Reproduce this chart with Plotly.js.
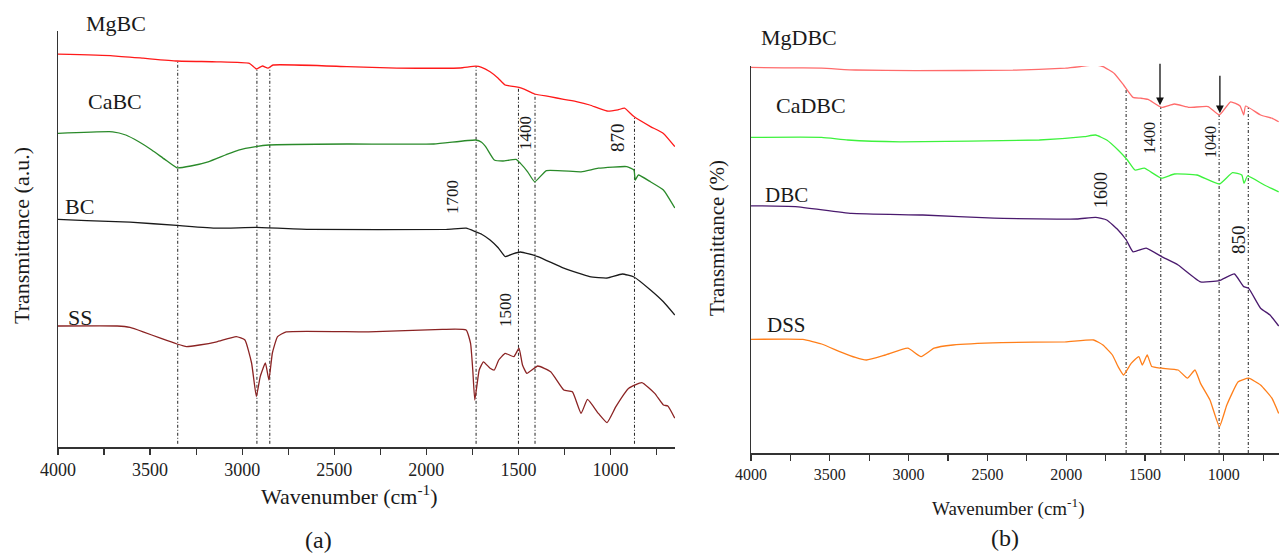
<!DOCTYPE html>
<html>
<head>
<meta charset="utf-8">
<script src="https://cdn.plot.ly/plotly-3.0.1.min.js"></script>
<style>html,body{margin:0;padding:0;background:#fff;}#chart{width:1279px;height:555px;}</style>
</head>
<body>
<div id="chart"></div>
<script>
// ---------- Panel (a) data ----------
const wn_MgBC = [4000,3703,3538,3354,3138,2961,2923,2890,2860,2832,2431,2160,1819,1732,1700,1654,1610,1572,1497,1466,1412,1330,1254,1180,1113,1019,960,924,873,783,713,651];
const t_MgBC  = [98.2,97.8,97.2,96.5,96.3,95.9,94.5,95.25,94.7,95.5,95.1,94.7,94.75,95.2,94.9,93.8,92.2,90.5,89.9,89.4,88.25,87.6,86.9,86.3,85.5,84,84.3,84.7,82.6,80.1,78.4,75.1];

const wn_CaBC = [4000,3703,3632,3561,3491,3420,3354,3279,3185,3091,3020,2926,2855,2431,1960,1732,1700,1678,1631,1584,1513,1489,1450,1412,1348,1160,1066,912,873,866,849,783,713,651];
const t_CaBC  = [78.4,78.8,78,76.3,74.25,71.9,69.8,70.25,71.3,73,74.25,75.1,75.5,75.75,75.75,76.75,76.2,75.1,71.75,71.5,71.9,70.9,68.8,66.3,69.1,68.8,69.7,70.1,69.25,66.75,68,66.3,64.25,59.75];

const wn_BC = [4000,3844,3609,3354,3138,2923,2631,1890,1784,1732,1700,1654,1610,1572,1530,1489,1395,1254,1113,1019,936,873,783,713,651];
const t_BC  = [56.9,56.6,56.2,55.4,54.7,54.9,54.4,54.4,54.7,53.8,53.2,51.75,49.8,47.6,48.3,48.75,47.6,44.7,42.6,42.25,43.25,42.5,39.25,36.3,33];

const wn_SS = [4000,3679,3609,3538,3444,3354,3302,3232,3138,3032,2985,2949,2923,2902,2874,2855,2836,2808,2761,2314,1913,1784,1760,1748,1737,1713,1690,1654,1631,1607,1572,1525,1497,1478,1454,1395,1325,1254,1207,1160,1125,1066,1019,971,901,830,760,713,689,651];
const t_SS  = [30.25,30.25,29.9,28.8,27.2,25.75,25.1,25.5,26.3,27.6,26.75,21,12.6,17.6,21,16.75,23.5,27.6,28.8,28.8,29.4,29.25,25.9,19.25,11.75,19.25,21.3,19.7,19.25,21.75,23.4,22.6,24.7,20.5,18.4,20.25,18.8,14.25,13.8,8.4,11.9,8.4,6.1,10.1,14.7,16.1,13.4,10.5,10.25,7.2];

const names_a = ['MgBC','CaBC','BC','SS'];
const colors_a = ['#ff1a1a','#2a8a2a','#1a1a1a','#8b2323'];
const marks_a = [3350,2920,2850,1730,1500,1410,870];
const peakLabels_a = ['1700','1400','1500','870'];

// ---------- Panel (b) data ----------
const wn_MgDBC = [4000,3790,3552,3338,2957,2338,2005,1910,1826,1767,1695,1636,1576,1528,1481,1395,1314,1219,1100,1028,957,897,874,862,767,695,652];
const t_MgDBC  = [96.4,96.3,96.2,95.75,95.6,95.7,96.2,96.6,97,96.6,94.9,92,88.9,88.7,88.4,86.4,87.25,86.4,86.6,84.5,87.8,86.75,84.5,86.75,84.5,83.7,82.8];

const wn_CaDBC = [4000,3552,3386,3052,2171,1886,1814,1743,1671,1612,1564,1505,1395,1314,1171,1028,945,886,872,850,743,652];
const t_CaDBC  = [78.9,78.9,78.25,77.8,78.25,79.1,79.5,78.25,75.75,73.25,70.75,71.2,68.7,69.75,69.5,67.25,70.1,69.5,67.4,69.25,67,65.3];

const wn_DBC = [4000,3719,3362,2910,2457,1933,1814,1743,1671,1619,1576,1493,1395,1290,1148,1028,933,874,843,767,707,652];
const t_DBC  = [61.8,61.6,59.9,59.5,58.7,58.5,58.9,58.25,55.75,53.25,50.3,51.2,49.1,47,42.8,43.1,44.75,41.6,41.2,36.2,34.5,31.75];

const wn_DSS = [4000,3671,3552,3433,3338,3267,3148,3005,2921,2838,2719,2409,2005,1826,1767,1707,1671,1636,1588,1540,1517,1486,1457,1395,1290,1231,1183,1148,1088,1028,981,909,843,767,695,652];
const t_DSS  = [28.4,28.4,27.25,25.3,23.9,23.25,24.5,26.2,24.1,26.2,27,27.6,27.8,28.25,27,24.5,21.6,19.5,22.4,24.1,22,24.5,21.6,21.2,20.75,18.7,20.75,17.4,13.25,6.6,12,17.8,18.7,17,13.7,9.9];

const names_b = ['MgDBC','CaDBC','DBC','DSS'];
const colors_b = ['#ff6b6b','#3df23d','#4a1a6e','#ff7f1a'];
const marks_b = [1620,1400,1030,845];
const arrows_b = [1405,1025];
const peakLabels_b = ['1600','1400','1040','850'];

// ---------- helpers ----------
function interp(xs, ys, x) {
  for (let i = 0; i < xs.length - 1; i++) {
    const a = xs[i], b = xs[i+1];
    if ((x <= a && x >= b) || (x >= a && x <= b)) {
      const t = (x - a) / (b - a);
      return ys[i] + t * (ys[i+1] - ys[i]);
    }
  }
  return ys[ys.length-1];
}
const W = 1279, H = 555;
const px = v => v / W;
const py = v => 1 - v / H;
const FONT = 'Liberation Serif, Times New Roman, serif';

const series_a = [[wn_MgBC,t_MgBC],[wn_CaBC,t_CaBC],[wn_BC,t_BC],[wn_SS,t_SS]];
const series_b = [[wn_MgDBC,t_MgDBC],[wn_CaDBC,t_CaDBC],[wn_DBC,t_DBC],[wn_DSS,t_DSS]];

const traces = [];
series_a.forEach((s, i) => traces.push({
  x: s[0], y: s[1], type: 'scatter', mode: 'lines', name: names_a[i],
  line: {color: colors_a[i], width: 1.3, shape: 'spline', smoothing: 0.4}, xaxis: 'x', yaxis: 'y', hoverinfo: 'skip', showlegend: false
}));
series_b.forEach((s, i) => traces.push({
  x: s[0], y: s[1], type: 'scatter', mode: 'lines', name: names_b[i],
  line: {color: colors_b[i], width: 1.3, shape: 'spline', smoothing: 0.4}, xaxis: 'x2', yaxis: 'y2', hoverinfo: 'skip', showlegend: false
}));

const dashStyle = '3px,2px,1px,2px';
const shapes = [];
marks_a.forEach(w => shapes.push({
  type: 'line', xref: 'x', yref: 'y', x0: w, x1: w, y0: 0.8, y1: interp(wn_MgBC, t_MgBC, w),
  line: {color: '#222', width: 1, dash: dashStyle}, layer: 'below'
}));
marks_b.forEach(w => shapes.push({
  type: 'line', xref: 'x2', yref: 'y2', x0: w, x1: w, y0: 0, y1: interp(wn_MgDBC, t_MgDBC, w),
  line: {color: '#222', width: 1, dash: dashStyle}, layer: 'below'
}));

const annotations = [];
function txt(text, x, y, size, opts) {
  annotations.push(Object.assign({
    text: text, xref: 'paper', yref: 'paper', x: px(x), y: py(y),
    xanchor: 'center', yanchor: 'middle', showarrow: false,
    font: {family: FONT, size: size, color: '#1a1a1a'}
  }, opts || {}));
}
// series labels (a)
txt(names_a[0], 116, 23, 22);
txt(names_a[1], 115, 101, 22);
txt(names_a[2], 79, 207, 22);
txt(names_a[3], 80, 317, 22);
// series labels (b)
txt(names_b[0], 799, 38, 22);
txt(names_b[1], 811, 105, 22);
txt(names_b[2], 786, 195, 21);
txt(names_b[3], 786, 325, 21);
// peak labels (a)
txt(peakLabels_a[0], 453, 197, 17, {textangle: -90});
txt(peakLabels_a[1], 525, 133, 17, {textangle: -90});
txt(peakLabels_a[2], 505, 310, 17, {textangle: -90});
txt(peakLabels_a[3], 617, 138, 19, {textangle: -90});
// peak labels (b)
txt(peakLabels_b[0], 1101, 190, 18, {textangle: -90});
txt(peakLabels_b[1], 1149, 138, 16, {textangle: -90});
txt(peakLabels_b[2], 1210, 142, 16, {textangle: -90});
txt(peakLabels_b[3], 1238, 240, 19, {textangle: -90});
// axis titles
txt('Wavenumber (cm<sup>-1</sup>)', 349, 495, 22);
txt('Wavenumber (cm<sup>-1</sup>)', 1009, 507, 19);
txt('Transmittance (a.u.)', 21, 236, 22, {textangle: -90});
txt('Transmittance (%)', 717, 238, 21, {textangle: -90});
txt('(a)', 318, 540, 24);
txt('(b)', 1005, 538, 24);
// arrows (b)
annotations.push({xref: 'x2', yref: 'y2', x: arrows_b[0], y: interp(wn_MgDBC, t_MgDBC, arrows_b[0]) + 0.3,
  ax: 0, ay: -43, text: '', showarrow: true, arrowhead: 2, arrowsize: 1.2, arrowwidth: 1.3, arrowcolor: '#111'});
annotations.push({xref: 'x2', yref: 'y2', x: arrows_b[1], y: interp(wn_MgDBC, t_MgDBC, arrows_b[1]) + 0.3,
  ax: 0, ay: -39, text: '', showarrow: true, arrowhead: 2, arrowsize: 1.2, arrowwidth: 1.3, arrowcolor: '#111'});

function xAxis(domain, anchor, fsize) {
  return {
    domain: domain, anchor: anchor, range: [4000, 650], autorange: false,
    showline: true, linecolor: '#333', linewidth: 1.5, mirror: false,
    ticks: 'outside', ticklen: 6, tickwidth: 1.2, tickcolor: '#333',
    tickmode: 'linear', tick0: 0, dtick: 500,
    minor: {ticks: 'outside', ticklen: 6, tickwidth: 1.2, tickcolor: '#333', dtick: 250, tick0: 0, showgrid: false},
    tickfont: {family: FONT, size: fsize, color: '#222'},
    showgrid: false, zeroline: false, fixedrange: true
  };
}
function yAxis(domain, anchor, range) {
  return {
    domain: domain, anchor: anchor, range: range, autorange: false,
    showline: true, linecolor: '#333', linewidth: 1.5,
    ticks: '', showticklabels: false, showgrid: false, zeroline: false, fixedrange: true
  };
}

const layout = {
  width: W, height: H,
  margin: {l: 0, r: 0, t: 0, b: 0, pad: 0},
  paper_bgcolor: '#ffffff', plot_bgcolor: '#ffffff',
  showlegend: false,
  xaxis: xAxis([58 / W, 675 / W], 'y', 18),
  yaxis: yAxis([1 - 447 / H, 1 - 31 / H], 'x', [0, 104]),
  xaxis2: xAxis([751 / W, 1], 'y2', 16),
  yaxis2: yAxis([1 - 453 / H, 1 - 66 / H], 'x2', [0, 96.75]),
  shapes: shapes,
  annotations: annotations
};

Plotly.newPlot('chart', traces, layout, {displayModeBar: false, staticPlot: true});
</script>
</body>
</html>
